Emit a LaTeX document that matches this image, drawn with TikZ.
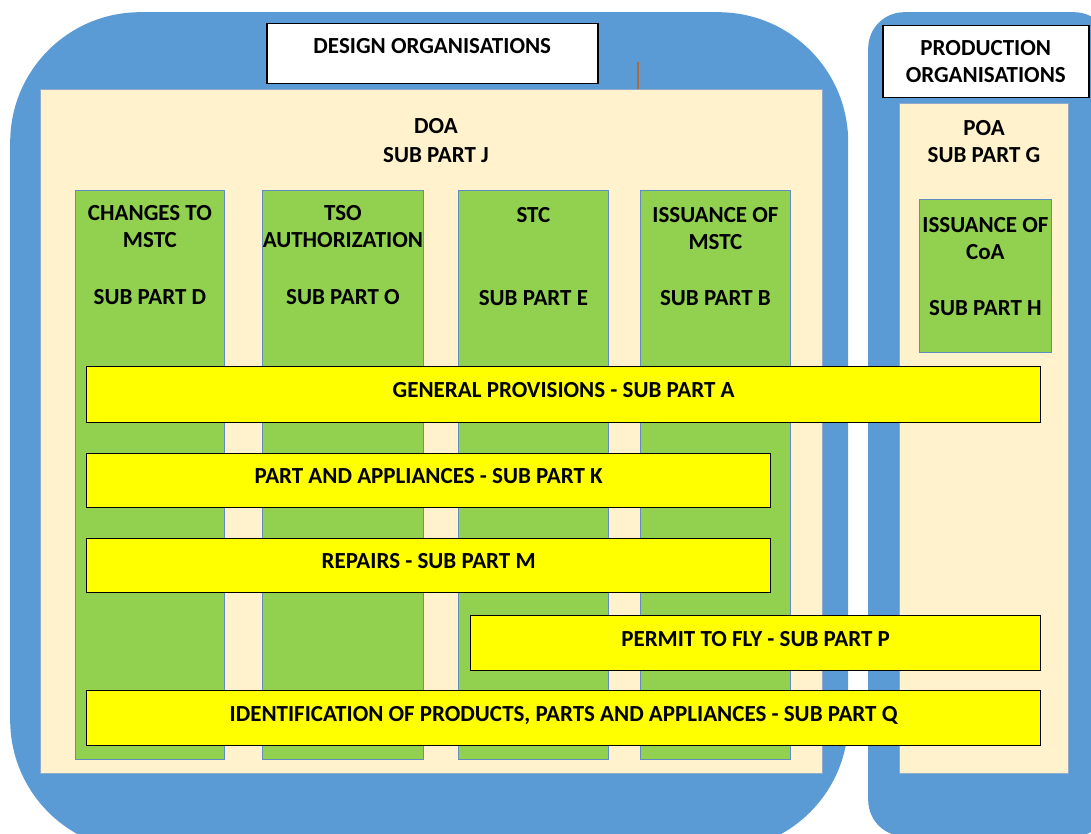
\documentclass[tikz,border=0pt]{standalone}
\usepackage{fontspec}
\setmainfont{Carlito}
\usetikzlibrary{positioning}
\definecolor{orgblue}{HTML}{5B9BD5}
\definecolor{areafill}{HTML}{FFF2CC}
\definecolor{areaedge}{HTML}{8FAACC}
\definecolor{subgreen}{HTML}{92D050}
\definecolor{subedge}{HTML}{5F8DC0}
\definecolor{barfill}{HTML}{FFFF00}
\definecolor{stray}{HTML}{B06A35}
\tikzset{
	org/.style={fill=orgblue, anchor=north west, inner sep=0pt},
	titlebox/.style={draw=black, line width=1.5pt, fill=white, anchor=north west, align=center, inner sep=0pt, font=\fontsize{23}{27}\selectfont\bfseries},
	area/.style={draw=areaedge, line width=0.8pt, fill=areafill, anchor=north west, inner sep=0pt},
	subpart/.style={draw=subedge, line width=0.8pt, fill=subgreen, anchor=north west, inner sep=0pt},
	bar/.style={draw=black, line width=1.2pt, fill=barfill, anchor=north west, inner sep=0pt, text depth=9pt, font=\fontsize{23}{27}\selectfont\bfseries},
	lbl/.style={align=center, inner sep=0pt, font=\fontsize{23}{27}\selectfont\bfseries}
}
\begin{document}
\begin{tikzpicture}[x=1pt,y=-1pt]
	\useasboundingbox (0,0) rectangle (1091,834);
	\clip (0,0) rectangle (1091,834);
	% the two organisations
	\node [org, rounded corners=130pt, minimum width=838pt, minimum height=838pt] (design) at (10,12) {};
	\node [org, rounded corners=36pt, minimum width=242pt, minimum height=824pt] (production) at (868,12) {};
	\node [titlebox, minimum width=331pt, minimum height=60pt, text depth=16pt] (dtitle) at (266,23) {DESIGN ORGANISATIONS};
	\node [titlebox, minimum width=206pt, minimum height=72pt] (ptitle) at (882,25) {PRODUCTION\\ORGANISATIONS};
	\draw [line width=1.2pt, stray] (638,62) -- (638,94);
	% approvals
	\node [area, minimum width=782pt, minimum height=684pt] (doa) at (40,89) {};
	\node [area, minimum width=169pt, minimum height=670pt] (poa) at (899,103) {};
	\node [lbl] (doatxt) at (436,140.5) {DOA\\[2pt]SUB PART J};
	\node [lbl] (poatxt) at (984,141.5) {POA\\SUB PART G};
	% sub parts (columns)
	\node [subpart, minimum width=149pt, minimum height=569pt] (subD) at (75,190) {};
	\node [subpart, minimum width=161pt, minimum height=569pt] (subO) at (262,190) {};
	\node [subpart, minimum width=150pt, minimum height=569pt] (subE) at (458,190) {};
	\node [subpart, minimum width=150pt, minimum height=569pt] (subB) at (640,190) {};
	\node [subpart, minimum width=132pt, minimum height=153pt] (subH) at (919,199) {};
	\node [lbl, anchor=north] (dtxt) at ([yshift=-15.5pt]subD.north) {CHANGES TO\\MSTC\\[30pt]SUB PART D};
	\node [lbl, anchor=north] (otxt) at ([yshift=-15.5pt]subO.north) {TSO\\AUTHORIZATION\\[30pt]SUB PART O};
	\node [lbl, anchor=north] (etxt) at ([yshift=-17.5pt]subE.north) {STC\\[56pt]SUB PART E};
	\node [lbl, anchor=north] (btxt) at ([yshift=-17.5pt]subB.north) {ISSUANCE OF\\MSTC\\[29pt]SUB PART B};
	\node [lbl, anchor=north] (htxt) at ([yshift=-18.5pt]subH.north) {ISSUANCE OF\\CoA\\[29pt]SUB PART H};
	% sub parts across the columns
	\node [bar, minimum width=954pt, minimum height=56pt] (subA) at (86,366) {GENERAL PROVISIONS - SUB PART A};
	\node [bar, minimum width=684pt, minimum height=54pt] (subK) at (86,453) {PART AND APPLIANCES - SUB PART K};
	\node [bar, minimum width=684pt, minimum height=54pt] (subM) at (86,538) {REPAIRS - SUB PART M};
	\node [bar, minimum width=570pt, minimum height=55pt] (subP) at (470,615) {PERMIT TO FLY - SUB PART P};
	\node [bar, minimum width=954pt, minimum height=55pt] (subQ) at (86,690) {IDENTIFICATION OF PRODUCTS, PARTS AND APPLIANCES - SUB PART Q};
\end{tikzpicture}
\end{document}
